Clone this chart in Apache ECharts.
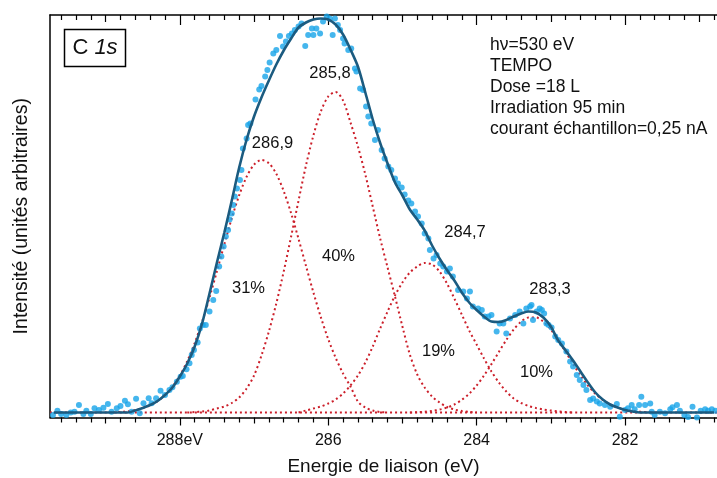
<!DOCTYPE html>
<html>
<head>
<meta charset="utf-8">
<script src="https://cdn.jsdelivr.net/npm/echarts@6/dist/echarts.min.js"></script>
<style>
html,body{margin:0;padding:0;background:#fff;}
#chart{width:717px;height:478px;}
</style>
</head>
<body>
<div id="chart"></div>
<script>
// ---- Data (binding energy in eV, intensity in arbitrary units) ----
const energy = [289.7,289.6,289.5,289.4,289.3,289.2,289.1,289.0,288.9,288.8,
288.7,288.6,288.5,288.4,288.3,288.2,288.1,288.0,287.9,287.8,
287.7,287.6,287.5,287.4,287.3,287.2,287.1,287.0,286.9,286.8,
286.7,286.6,286.5,286.4,286.3,286.2,286.1,286.0,285.9,285.8,
285.7,285.6,285.5,285.4,285.3,285.2,285.1,285.0,284.9,284.8,
284.7,284.6,284.5,284.4,284.3,284.2,284.1,284.0,283.9,283.8,
283.7,283.6,283.5,283.4,283.3,283.2,283.1,283.0,282.9,282.8,
282.7,282.6,282.5,282.4,282.3,282.2,282.1,282.0,281.9,281.8,
281.7,281.6,281.5,281.4,281.3,281.2,281.1,281.0,280.9,280.8];

const envelope = [0,0,0,0,0,0,0,0,0,0,
0,0.2,0.45,0.75,1.15,1.75,2.5,3.6,4.9,6.6,
8.9,11.9,15.0,18.0,21.2,24.5,27.3,29.6,31.5,33.2,
34.8,36.2,37.4,38.5,39.0,39.3,39.4,39.3,38.8,37.8,
36.3,34.6,32.0,29.3,26.95,24.9,23.0,21.7,20.3,19.3,
18.2,16.7,15.4,14.25,13.2,12.0,11.0,10.25,9.6,9.1,
9.05,9.25,9.6,9.9,10.1,10.0,9.5,8.6,7.2,6.2,
5.2,4.1,3.0,2.0,1.3,0.8,0.5,0.25,0.1,0,
0,0,0,0,0,0,0,0,0,0];

const n = null;
const peak2869 = [n,n,n,n,n,n,n,n,0,0.06,
0.12,0.25,0.44,0.72,1.14,1.74,2.57,3.69,5.14,6.94,
9.07,11.5,14.13,16.83,19.43,21.73,23.57,24.78,25.25,24.93,
23.87,22.14,19.92,17.36,14.67,12.01,9.54,7.34,5.47,3.9,
2.6,1.1,0.5,0.2,0.05,0,n,n,n,n,
n,n,n,n,n,n,n,n,n,n,
n,n,n,n,n,n,n,n,n,n,
n,n,n,n,n,n,n,n,n,n,
n,n,n,n,n,n,n,n,n,n];

const peak2858 = [n,n,n,n,n,n,n,n,n,n,
n,n,n,n,n,n,n,n,0,0.04,
0.1,0.2,0.4,0.6,0.95,1.5,2.4,3.7,5.7,8.1,
10.9,14.1,17.6,21.2,24.7,27.7,30.1,31.6,32.05,31.2,
29.0,26.6,23.8,20.6,17.4,14.5,11.6,8.6,5.8,3.8,
2.5,1.6,1.0,0.55,0.3,0.15,0.05,0,n,n,
n,n,n,n,n,n,n,n,n,n,
n,n,n,n,n,n,n,n,n,n,
n,n,n,n,n,n,n,n,n,n];

const peak2847 = [n,n,n,n,n,n,n,n,n,n,
n,n,n,n,n,n,n,n,n,n,
n,n,n,n,n,n,n,n,n,n,
n,n,n,0,0.2,0.4,0.6,0.9,1.3,1.9,
2.7,3.7,5.0,6.6,8.4,10.1,11.7,13.0,14.0,14.6,
14.95,14.8,14.1,12.9,11.4,9.8,8.2,6.8,5.4,4.1,
3.0,2.1,1.4,0.95,0.65,0.45,0.3,0.2,0.12,0.05,
0,n,n,n,n,n,n,n,n,n,
n,n,n,n,n,n,n,n,n,n];

const peak2833 = [n,n,n,n,n,n,n,n,n,n,
n,n,n,n,n,n,n,n,n,n,
n,n,n,n,n,n,n,n,n,n,
n,n,n,n,n,n,n,n,n,n,
n,n,n,n,n,n,n,n,0,0.03,
0.08,0.16,0.29,0.49,0.8,1.26,1.88,2.7,3.7,4.84,
6.06,7.25,8.3,9.08,9.5,9.5,9.08,8.3,7.25,6.06,
4.84,3.7,2.7,1.88,1.26,0.8,0.49,0.29,0.16,0.08,
0.03,0,n,n,n,n,n,n,n,n];

const baselineE = [289.75, 280.76];
const baselineI = [0, 0];

const scatterE = [289.71,289.65,289.60,289.53,289.47,289.42,289.36,289.30,289.26,289.20,
289.15,289.09,289.03,288.97,288.92,288.85,288.80,288.74,288.70,288.65,
288.59,288.54,288.49,288.42,288.38,288.32,288.26,288.20,288.14,288.10,
288.04,287.99,287.96,287.91,287.87,287.84,287.81,287.76,287.73,287.69,
287.65,287.60,287.55,287.51,287.47,287.44,287.41,287.38,287.35,287.33,
287.30,287.28,287.26,287.23,287.19,287.17,287.15,287.10,287.08,287.05,
286.98,286.93,286.90,286.85,286.82,286.79,286.74,286.70,286.65,286.61,
286.57,286.53,286.49,286.45,286.40,286.36,286.31,286.27,286.22,286.20,
286.16,286.11,286.07,286.02,285.98,285.94,285.91,285.87,285.84,285.80,
285.78,285.73,285.69,285.64,285.62,285.57,285.53,285.49,285.46,285.42,
285.37,285.33,285.28,285.24,285.19,285.15,285.10,285.06,285.01,284.97,
284.92,284.88,284.83,284.79,284.74,284.70,284.65,284.63,284.58,284.54,
284.49,284.45,284.40,284.36,284.32,284.25,284.18,284.13,284.09,284.05,
283.98,283.93,283.89,283.84,283.80,283.73,283.69,283.64,283.60,283.55,
283.48,283.42,283.37,283.33,283.28,283.26,283.24,283.19,283.15,283.12,
283.09,283.06,283.03,282.99,282.94,282.90,282.85,282.79,282.74,282.70,
282.65,282.61,282.56,282.52,282.47,282.43,282.38,282.34,282.27,282.20,
282.11,282.07,282.00,281.96,281.91,281.87,281.81,281.78,281.73,281.66,
281.64,281.60,281.53,281.46,281.39,281.36,281.30,281.26,281.20,281.15,
281.09,281.03,280.98,280.92,280.88,280.83,280.78];

const scatterI = [-0.25,0.18,-0.15,-0.25,0,0.08,0.75,-0.15,0.18,-0.15,
0.42,0.25,0.48,0.85,0.08,0.42,0.65,1.18,0.82,0.08,
1.38,-0.08,0.92,1.42,0.92,1.42,2.18,1.75,2.25,2.52,
3.08,3.58,3.65,4.32,4.92,5.75,6.25,7.0,8.4,8.75,
8.75,10.1,11.25,12.15,14.6,15.6,16.6,17.6,18.25,19.3,
19.9,20.75,21.6,22.4,23.25,24.25,26.4,27.4,28.75,28.9,
31.3,32.3,32.65,33.6,34.25,35.0,35.9,36.25,37.65,36.6,
37.1,37.65,37.9,38.25,38.6,38.9,36.65,37.75,38.4,37.75,
38.4,37.9,39.1,39.6,39.4,37.75,39.4,38.75,38.25,37.4,
36.9,36.25,36.4,34.4,34.1,32.4,32.25,30.6,29.6,28.9,
27.25,28.25,26.25,25.4,24.6,24.25,23.4,22.9,22.5,21.8,
21.2,20.9,20.1,19.6,18.9,17.9,17.4,16.25,15.4,15.75,
14.9,14.6,14.1,14.4,13.6,12.25,12.1,11.4,12.1,10.6,
10.4,10.25,9.6,9.6,9.75,8.1,8.9,8.9,7.9,9.4,
9.75,10.1,8.9,10.4,10.6,10.75,9.25,10.1,10.4,10.25,
9.9,8.9,8.75,8.5,7.6,7.25,6.9,6.1,5.1,4.6,
3.75,3.25,2.75,2.25,1.25,1.4,1.1,0.9,0.75,0.58,
0.85,-0.42,0.25,0.42,0.75,0.32,0.75,1.58,0.75,0.9,
0.08,-0.25,0.08,-0.08,0.32,0.52,0.75,0.18,-0.25,-0.45,
0.58,-0.5,0.18,0.32,0.18,0.32,0.18];

const majorTicks = [282, 284, 286, 288];
const tickLabels = {282:'282', 284:'284', 286:'286', 288:'288eV'};
const peakLabels = ['286,9', '285,8', '284,7', '283,3'];
const peakShares = ['31%', '40%', '19%', '10%'];
const infoLines = ['h\u03bd=530 eV', 'TEMPO', 'Dose =18 L', 'Irradiation 95 min', 'courant \u00e9chantillon=0,25 nA'];

// ---- Chart ----
const xMin = 280.76, xMax = 289.75;
const FONT = '"Liberation Sans", Arial, sans-serif';
const RED = '#cc1f2a';

const oddTicks = [], minorTicks = [];
for (let k = 1404; k <= 1448; k++) { // k*0.2 eV
  const v = +(k * 0.2).toFixed(1);
  if (v < xMin || v > xMax) continue;
  if (Math.abs(v - Math.round(v)) < 1e-6) {
    const iv = Math.round(v);
    if (iv % 2 === 1) oddTicks.push(iv);
  } else {
    minorTicks.push(v);
  }
}

function tickAxis(pos, values, len, inside, showLine) {
  return {
    type: 'value', position: pos, min: xMin, max: xMax, inverse: true, gridIndex: 0,
    axisLine: { show: showLine, onZero: false, lineStyle: { color: '#000', width: 1.5 } },
    axisTick: { show: true, inside: inside, length: len, customValues: values, lineStyle: { color: '#000', width: 1.2 } },
    axisLabel: { show: false }, splitLine: { show: false }
  };
}

const pairs = (xs, ys) => xs.map((x, i) => [x, ys[i]]);

const chart = echarts.init(document.getElementById('chart'), null, { renderer: 'canvas' });

const mainX = {
  type: 'value', position: 'bottom', min: xMin, max: xMax, inverse: true, gridIndex: 0,
  name: 'Energie de liaison (eV)', nameLocation: 'middle', nameGap: 40,
  nameTextStyle: { fontFamily: FONT, fontSize: 19, color: '#111' },
  axisLine: { show: true, onZero: false, lineStyle: { color: '#000', width: 1.5 } },
  axisTick: { show: true, inside: false, length: 8, customValues: majorTicks, lineStyle: { color: '#000', width: 1.2 } },
  axisLabel: { show: true, customValues: majorTicks, margin: 15, fontFamily: FONT, fontSize: 16, color: '#111',
    formatter: v => tickLabels[Math.round(v)] || String(v) },
  splitLine: { show: false }
};

const dotted = (data, name) => ({
  type: 'line', name: name, xAxisIndex: 0, yAxisIndex: 0, data: data, smooth: 0.3,
  showSymbol: false, symbol: 'none', connectNulls: false, z: 2, silent: true,
  lineStyle: { color: RED, width: 2, type: [2, 3] }
});

const option = {
  animation: false,
  backgroundColor: '#fff',
  grid: { left: 50, right: 0, top: 15, bottom: 60.5, containLabel: false, outerBoundsMode: 'none' },
  xAxis: [
    mainX,
    tickAxis('bottom', oddTicks, 6, false, false),
    tickAxis('bottom', minorTicks, 5, false, false),
    tickAxis('top', majorTicks, 10, true, true),
    tickAxis('top', oddTicks, 7, true, false),
    tickAxis('top', minorTicks, 5, true, false)
  ],
  yAxis: {
    type: 'value', min: -0.5, max: 39.75,
    name: 'Intensit\u00e9 (unit\u00e9s arbitraires)', nameLocation: 'middle', nameGap: 18, nameRotate: 90,
    nameTextStyle: { fontFamily: FONT, fontSize: 19.5, color: '#111' },
    axisLine: { show: true, onZero: false, lineStyle: { color: '#000', width: 1.5 } },
    axisTick: { show: false }, axisLabel: { show: false }, splitLine: { show: false }
  },
  series: [
    dotted(pairs(baselineE, baselineI), 'baseline'),
    dotted(pairs(energy, peak2869), peakLabels[0]),
    dotted(pairs(energy, peak2858), peakLabels[1]),
    dotted(pairs(energy, peak2847), peakLabels[2]),
    dotted(pairs(energy, peak2833), peakLabels[3]),
    {
      type: 'scatter', name: 'mesure', data: pairs(scatterE, scatterI), symbolSize: 6, z: 3, silent: true,
      itemStyle: { color: '#16a4e8' }
    },
    {
      type: 'line', name: 'enveloppe', data: pairs(energy, envelope), smooth: 0.3, showSymbol: false, symbol: 'none',
      z: 4, silent: true, lineStyle: { color: '#1b5b80', width: 2.6 }
    }
  ],
  graphic: [
    { type: 'rect', shape: { x: 64.5, y: 29.5, width: 61, height: 37 },
      style: { fill: '#fff', stroke: '#000', lineWidth: 1.5 }, z: 10 },
    { type: 'text', x: 95, y: 48, z: 11,
      style: { text: '{a|C }{b|1s}', align: 'center', verticalAlign: 'middle',
        rich: { a: { fontFamily: FONT, fontSize: 22, fill: '#111' },
                b: { fontFamily: FONT, fontSize: 22, fontStyle: 'italic', fill: '#111' } } } },
    ...infoLines.map((t, i) => ({ type: 'text', x: 490, y: 45 + i * 21, z: 11,
      style: { text: t, fontFamily: FONT, fontSize: 17.5, fill: '#111', align: 'left', verticalAlign: 'middle' } })),
    ...[[272.5, 143], [330, 73], [465, 232], [550, 289]].map((p, i) => ({ type: 'text', x: p[0], y: p[1], z: 11,
      style: { text: peakLabels[i], fontFamily: FONT, fontSize: 16.5, fill: '#111', align: 'center', verticalAlign: 'middle' } })),
    ...[[248.5, 288.5], [338.5, 256.5], [438.5, 351.5], [536.5, 372.5]].map((p, i) => ({ type: 'text', x: p[0], y: p[1], z: 11,
      style: { text: peakShares[i], fontFamily: FONT, fontSize: 16.5, fill: '#111', align: 'center', verticalAlign: 'middle' } }))
  ]
};

chart.setOption(option);
</script>
</body>
</html>
